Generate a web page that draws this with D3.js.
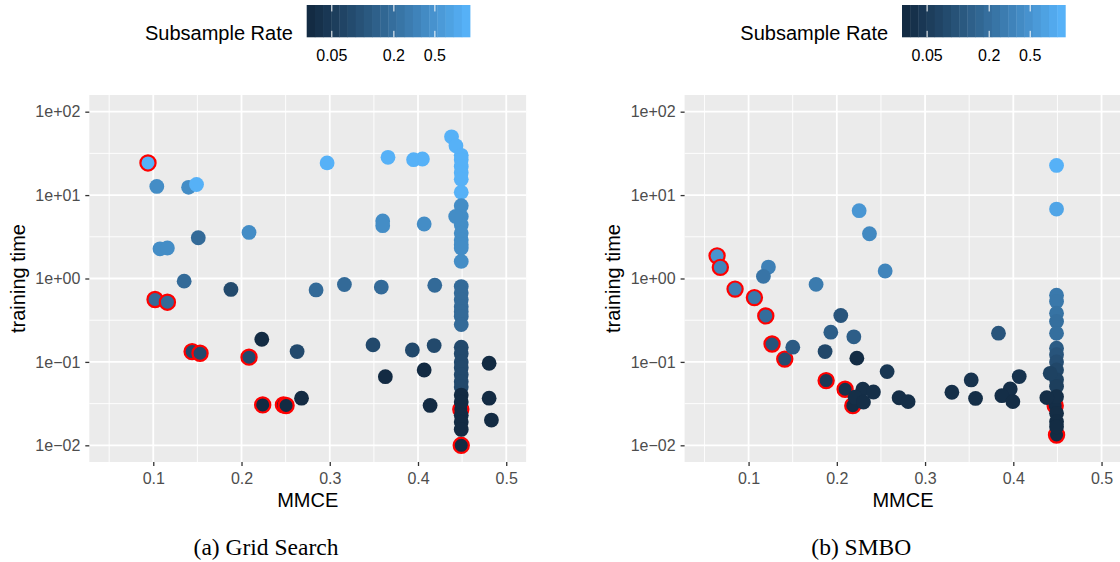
<!DOCTYPE html>
<html><head><meta charset="utf-8">
<script src="https://cdn.jsdelivr.net/npm/d3@7"></script>
<style>
body{margin:0;background:#fff;}
svg{display:block;font-family:"Liberation Sans",Arial,sans-serif;}
</style></head>
<body><svg id="c" width="1120" height="562"></svg>
<script>
// ---------- DATA ----------
const panelCaptions = ["(a) Grid Search", "(b) SMBO"];
const xTicks = [0.1, 0.2, 0.3, 0.4, 0.5];
const xTickLabels = ["0.1", "0.2", "0.3", "0.4", "0.5"];
const xMinor = [0.05, 0.15, 0.25, 0.35, 0.45];
const yTicks = [0.01, 0.1, 1, 10, 100];
const yTickLabels = ["1e\u221202", "1e\u221201", "1e+00", "1e+01", "1e+02"];
const yMinor = [Math.pow(10,-1.5), Math.pow(10,-0.5), Math.pow(10,0.5), Math.pow(10,1.5)];
const legendBreaks = [0.05, 0.2, 0.5];
const legendLabels = ["0.05", "0.2", "0.5"];
const rateLimits = [1/32, 1];

// Grid search
const gridMMCE = [0.094,0.104,0.140,0.149,0.151,0.2085,0.1076,0.116,0.135,0.188,0.102,0.116,0.223,0.263,0.144,0.153,0.2085,0.224,0.2475,0.2505,0.268,
 0.297,0.366,0.395,0.405,0.438,0.443,
 0.449,0.449,0.449,0.449,0.449,0.449,
 0.449,0.449,0.449,0.449,0.449,0.449,0.449,0.449,0.4427,0.407,0.360,0.360,
 0.449,0.449,0.449,0.449,0.449,0.449,0.449,0.2845,0.3166,0.3584,0.419,
 0.449,0.449,0.449,0.449,0.449,0.449,0.449,0.349,0.3936,0.4183,
 0.363,0.407,0.4806,0.4137,0.4806,0.4832,
 0.449,0.449,0.4485,0.449,0.449,0.449,0.449];
const gridTime = [24.3,12.7,12.4,13.4,3.08,3.57,2.27,2.32,0.93,0.74,0.56,0.52,0.187,0.133,0.133,0.127,0.114,0.0305,0.0305,0.030,0.0367,
 24.3,28.4,26.6,27.1,50,39,
 30,26.5,22,18.5,15.5,10.8,
 7.45,5.55,4.4,3.5,2.9,2.54,2.32,1.6,5.55,4.5,4.9,4.3,
 0.80,0.67,0.555,0.46,0.40,0.35,0.28,0.73,0.847,0.79,0.83,
 0.15,0.125,0.1,0.085,0.07,0.058,0.05,0.16,0.139,0.157,
 0.0665,0.08,0.0964,0.0301,0.0367,0.0201,
 0.04,0.033,0.027,0.023,0.019,0.0155,0.01];
const gridRate = [1,0.4204,0.4204,1,0.1768,0.4204,0.4204,0.4204,0.1768,0.0743,0.1768,0.1768,0.03125,0.0743,0.0743,0.0743,0.0743,0.03125,0.03125,0.03125,0.03125,
 1,1,1,1,1,1,
 1,1,1,1,1,1,
 0.4204,0.4204,0.4204,0.4204,0.4204,0.4204,0.4204,0.4204,0.4204,0.4204,0.4204,0.4204,
 0.1768,0.1768,0.1768,0.1768,0.1768,0.1768,0.1768,0.1768,0.1768,0.1768,0.1768,
 0.0743,0.0743,0.0743,0.0743,0.0743,0.0743,0.0743,0.0743,0.0743,0.0743,
 0.03125,0.03125,0.03125,0.03125,0.03125,0.03125,
 0.03125,0.03125,0.03125,0.03125,0.03125,0.03125,0.03125];
const gridPareto = [0,10,11,14,15,16,17,18,19,74,78];

// SMBO
const smboMMCE = [0.2253,0.237,0.2548,0.0643,0.068,0.1225,0.1168,0.1765,0.0847,0.1066,0.1195,0.2045,0.1932,0.2193,0.1266,0.1501,0.1867,0.141,0.2227,0.257,
 0.1879,0.2094,0.2295,0.2415,0.2207,0.2302,0.2181,0.2706,0.2808,
 0.449,0.449,0.3832,
 0.449,0.449,0.449,0.449,0.449,0.449,0.449,0.449,0.449,0.449,0.449,0.449,0.4475,0.449,0.449,0.449,0.449,
 0.4418,0.438,0.4067,0.3965,0.387,0.3995,0.3523,0.3304,0.3572];
const smboTime = [6.5,3.44,1.23,1.87,1.36,1.37,1.06,0.85,0.746,0.59,0.356,0.36,0.227,0.2,0.164,0.15,0.133,0.108,0.111,0.0765,
 0.0597,0.047,0.047,0.0436,0.0377,0.033,0.0299,0.0372,0.0334,
 22.7,6.8,0.221,
 0.63,0.53,0.384,0.305,0.22,0.146,0.122,0.1,0.08,0.061,0.0507,0.0383,0.0299,0.0242,0.0192,0.0167,0.0133,
 0.073,0.0373,0.0667,0.0474,0.0394,0.0334,0.0608,0.0433,0.0365];
const smboRate = [0.53,0.38,0.35,0.5,0.35,0.31,0.23,0.27,0.3,0.26,0.19,0.1,0.13,0.13,0.1,0.12,0.07,0.08,0.032,0.044,
 0.047,0.038,0.035,0.035,0.035,0.034,0.033,0.034,0.034,
 1.0,0.75,0.1,
 0.26,0.25,0.22,0.2,0.2,0.12,0.1,0.085,0.07,0.06,0.055,0.035,0.034,0.033,0.032,0.032,0.032,
 0.06,0.035,0.04,0.035,0.034,0.033,0.04,0.035,0.034];
const smboPareto = [3,4,8,9,10,14,17,20,21,26,44,48];

// ---------- DRAW ----------
const svg = d3.select("#c");
const color = d3.scaleLog().domain(rateLimits).range(["#132B43","#56B1F7"]).interpolate(d3.interpolateLab).clamp(true);

const panels = [
  {dx:0, mmce:gridMMCE, time:gridTime, rate:gridRate, pareto:gridPareto, caption:panelCaptions[0]},
  {dx:595.3, mmce:smboMMCE, time:smboTime, rate:smboRate, pareto:smboPareto, caption:panelCaptions[1]}
];

panels.forEach(p => {
  const g = svg.append("g").attr("transform", `translate(${p.dx},0)`);
  const L = 89.3, R = 526.1, T = 95, B = 462;
  const x = d3.scaleLinear().domain([0.05 - 0.0225, 0.5 + 0.0225]).range([L, R]);
  const y = d3.scaleLog().domain([Math.pow(10,-2.2), Math.pow(10,2.2)]).range([B, T]);

  // panel background
  g.append("rect").attr("x", L).attr("y", T).attr("width", R - L).attr("height", B - T).attr("fill", "#EBEBEB");
  // minor grid
  g.selectAll(".xm").data(xMinor).enter().append("line")
    .attr("x1", d => x(d)).attr("x2", d => x(d)).attr("y1", T).attr("y2", B)
    .attr("stroke", "#fff").attr("stroke-width", 0.9);
  g.selectAll(".ym").data(yMinor).enter().append("line")
    .attr("y1", d => y(d)).attr("y2", d => y(d)).attr("x1", L).attr("x2", R)
    .attr("stroke", "#fff").attr("stroke-width", 0.9);
  // major grid
  g.selectAll(".xM").data(xTicks).enter().append("line")
    .attr("x1", d => x(d)).attr("x2", d => x(d)).attr("y1", T).attr("y2", B)
    .attr("stroke", "#fff").attr("stroke-width", 1.8);
  g.selectAll(".yM").data(yTicks).enter().append("line")
    .attr("y1", d => y(d)).attr("y2", d => y(d)).attr("x1", L).attr("x2", R)
    .attr("stroke", "#fff").attr("stroke-width", 1.8);

  // axes
  const xAxis = d3.axisBottom(x).tickValues(xTicks).tickFormat((d,i) => xTickLabels[i]).tickSize(4).tickPadding(4);
  const xg = g.append("g").attr("transform", `translate(0,${B})`).call(xAxis);
  xg.select(".domain").remove();
  xg.selectAll("line").attr("stroke", "#333").attr("stroke-width", 1.3);
  xg.selectAll("text").attr("font-size", 16).attr("fill", "#4D4D4D")
    .attr("font-family", "Liberation Sans, Arial, sans-serif").attr("dy", "0.85em");

  const yAxis = d3.axisLeft(y).tickValues(yTicks).tickFormat((d,i) => yTickLabels[i]).tickSize(4).tickPadding(5);
  const yg = g.append("g").attr("transform", `translate(${L},0)`).call(yAxis);
  yg.select(".domain").remove();
  yg.selectAll("line").attr("stroke", "#333").attr("stroke-width", 1.3);
  yg.selectAll("text").attr("font-size", 16).attr("fill", "#4D4D4D")
    .attr("font-family", "Liberation Sans, Arial, sans-serif");

  // axis titles
  g.append("text").attr("x", (L + R) / 2).attr("y", 507).attr("text-anchor", "middle")
    .attr("font-size", 20).attr("fill", "#000").text("MMCE");
  g.append("text").attr("transform", `translate(25,${(T + B) / 2}) rotate(-90)`).attr("text-anchor", "middle")
    .attr("font-size", 20).attr("fill", "#000").text("training time");

  // points
  const idx = d3.range(p.mmce.length);
  const par = new Set(p.pareto);
  const clip = "clip" + p.dx;
  g.append("clipPath").attr("id", clip.replace(".", "_")).append("rect")
    .attr("x", L).attr("y", T).attr("width", R - L).attr("height", B - T);
  const pg = g.append("g");
  pg.selectAll(".pp").data(idx.filter(i => par.has(i))).enter().append("circle")
    .attr("cx", i => x(p.mmce[i])).attr("cy", i => y(p.time[i])).attr("r", 7.6)
    .attr("fill", i => color(p.rate[i])).attr("stroke", "#FF0000").attr("stroke-width", 2.2);
  pg.selectAll(".np").data(idx.filter(i => !par.has(i))).enter().append("circle")
    .attr("cx", i => x(p.mmce[i])).attr("cy", i => y(p.time[i])).attr("r", 7.4)
    .attr("fill", i => color(p.rate[i]));

  // caption
  g.append("text").attr("x", 266).attr("y", 555).attr("text-anchor", "middle")
    .attr("font-family", "Liberation Serif, Times New Roman, serif").attr("font-size", 23.5).attr("fill", "#000")
    .text(p.caption);

  // legend
  const bx = 306.7, bw = 163.3, by = 5, bh = 32.3, nbin = 20;
  g.append("text").attr("x", 145).attr("y", 40).attr("font-size", 20).attr("fill", "#000").text("Subsample Rate");
  const binT = d3.range(nbin).map(i => Math.exp(Math.log(rateLimits[0]) + (Math.log(rateLimits[1]) - Math.log(rateLimits[0])) * i / (nbin - 1)));
  g.selectAll(".bin").data(binT).enter().append("rect")
    .attr("x", (d,i) => bx + i * bw / nbin).attr("y", by).attr("width", bw / nbin + 0.4).attr("height", bh)
    .attr("fill", d => color(d));
  const lpos = d3.scaleLog().domain(rateLimits).range([bx + bw * 0.5 / nbin, bx + bw * (nbin - 0.5) / nbin]);
  legendBreaks.forEach((b, i) => {
    const px = lpos(b);
    g.append("line").attr("x1", px).attr("x2", px).attr("y1", by).attr("y2", by + bh / 5).attr("stroke", "#fff").attr("stroke-width", 1);
    g.append("line").attr("x1", px).attr("x2", px).attr("y1", by + bh - bh / 5).attr("y2", by + bh).attr("stroke", "#fff").attr("stroke-width", 1);
    g.append("text").attr("x", px).attr("y", 61).attr("text-anchor", "middle").attr("font-size", 16).attr("fill", "#000").text(legendLabels[i]);
  });
});
</script></body></html>
